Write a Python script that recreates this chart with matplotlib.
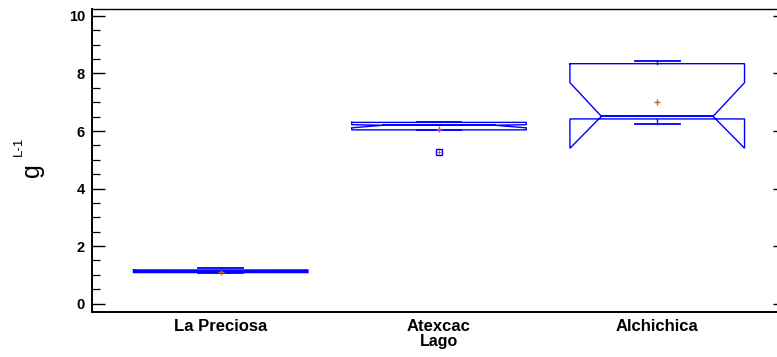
import numpy as np
import matplotlib
matplotlib.use("Agg")
import matplotlib.pyplot as plt
from matplotlib.ticker import MultipleLocator

# values (g L-1 per lake)
lagos = ["La Preciosa", "Atexcac", "Alchichica"]
q1 = [1.08, 6.04, 6.42]
q3 = [1.17, 6.30, 8.34]
mediana = [1.13, 6.20, 6.51]
notch_lo = [1.11, 6.11, 5.40]
notch_hi = [1.15, 6.22, 7.68]
whis_lo = [1.08, 6.04, 6.25]
whis_hi = [1.23, 6.32, 8.45]
media = [1.09, 6.06, 7.00]
atipicos = [[], [5.28], []]

plt.rcParams["font.family"] = ["Liberation Sans", "DejaVu Sans"]

BLUE = "#0000ff"
MEAN_COLOR = "#c0602a"


def draw_box(ax, pos, i, width=0.8, cap=0.205, narrow=0.64):
    hw = width / 2.0
    nw = hw * narrow
    left, right = pos - hw, pos + hw

    xs = [left, left, pos - nw, left, left, right, right, pos + nw, right,
          right, left]
    ys = [q3[i], notch_hi[i], mediana[i], notch_lo[i], q1[i], q1[i],
          notch_lo[i], mediana[i], notch_hi[i], q3[i], q3[i]]
    ax.plot(xs, ys, color=BLUE, lw=1.0, solid_joinstyle="miter")
    ax.plot([pos - nw, pos + nw], [mediana[i], mediana[i]], color=BLUE,
            lw=1.4)

    # whiskers and caps
    ax.plot([pos, pos], [q3[i], whis_hi[i]], color=BLUE, lw=1.0)
    ax.plot([pos, pos], [q1[i], whis_lo[i]], color=BLUE, lw=1.0)
    for w in (whis_hi[i], whis_lo[i]):
        ax.plot([pos - cap / 2, pos + cap / 2], [w, w], color=BLUE, lw=1.3)

    ax.plot([pos], [media[i]], marker="+", ms=5, mew=1.0, color=MEAN_COLOR,
            ls="none")
    for o in atipicos[i]:
        ax.plot([pos], [o], marker="s", ms=4.5, mfc="none", mec=BLUE,
                mew=1.0, ls="none")
        ax.plot([pos], [o], marker="+", ms=3.5, mew=0.8, color=MEAN_COLOR,
                ls="none")


fig = plt.figure(figsize=(7.77, 3.57), dpi=100)
ax = fig.add_axes([92 / 777, 45.3 / 357, 694 / 777, 302.4 / 357])

for i, lago in enumerate(lagos):
    draw_box(ax, i + 1, i)

ax.set_xlim(0.41, 3.59)
ax.set_ylim(-0.28, 10.23)

ax.set_xticks(range(1, len(lagos) + 1))
ax.set_xticklabels(lagos, fontsize=12, fontweight="bold")
ax.tick_params(axis="x", length=0, pad=5)

ax.yaxis.set_major_locator(MultipleLocator(2))
ax.yaxis.set_minor_locator(MultipleLocator(0.5))
ax.tick_params(axis="y", which="major", direction="in", length=9.5,
               width=1.0, labelsize=10.5, pad=5, right=True)
ax.tick_params(axis="y", which="minor", direction="in", length=5.5,
               width=0.9, right=True)
for lab in ax.get_yticklabels():
    lab.set_fontweight("bold")

ax.spines["left"].set_linewidth(1.4)
ax.spines["bottom"].set_linewidth(1.4)
ax.spines["top"].set_linewidth(1.0)
ax.spines["right"].set_linewidth(1.0)

ax.set_xlabel("Lago", fontsize=11.5, fontweight="bold", labelpad=0)

# y label: g with L-1 written as superscript, rotated
fig.text(32 / 777, 1 - 170 / 357, "g", rotation=90, fontsize=18,
         ha="center", va="center")
fig.text(19 / 777, 1 - 146 / 357, "L-1", rotation=90, fontsize=9.5,
         ha="center", va="center")

fig.savefig("out.png", dpi=100)
